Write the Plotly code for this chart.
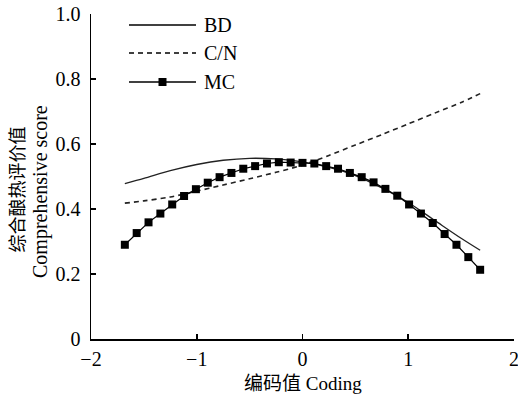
import plotly.graph_objects as go

# ---- data ----
coding_mc = [-1.68, -1.568, -1.456, -1.344, -1.232, -1.12, -1.008, -0.896, -0.784, -0.672,
             -0.56, -0.448, -0.336, -0.224, -0.112, 0.0, 0.112, 0.224, 0.336, 0.448,
             0.56, 0.672, 0.784, 0.896, 1.008, 1.12, 1.232, 1.344, 1.456, 1.568, 1.68]
mc = [0.290, 0.326, 0.359, 0.386, 0.414, 0.440, 0.461, 0.481, 0.498, 0.511,
      0.524, 0.532, 0.540, 0.544, 0.543, 0.542, 0.540, 0.532, 0.524, 0.511,
      0.498, 0.482, 0.462, 0.441, 0.414, 0.386, 0.357, 0.323, 0.290, 0.252, 0.213]

coding_curve = [-1.68, -1.5, -1.25, -1.0, -0.75, -0.5, -0.25, 0.0, 0.25, 0.5, 0.75, 1.0, 1.25, 1.5, 1.68]
bd = [0.478, 0.494, 0.518, 0.537, 0.550, 0.556, 0.554, 0.545, 0.528, 0.503, 0.465, 0.420, 0.365, 0.310, 0.273]
cn = [0.418, 0.425, 0.437, 0.455, 0.474, 0.493, 0.513, 0.535, 0.565, 0.597, 0.629, 0.662, 0.695, 0.728, 0.755]

x_ticks = [-2, -1, 0, 1, 2]
x_ticktext = ["\u22122", "\u22121", "0", "1", "2"]
y_ticks = [0, 0.2, 0.4, 0.6, 0.8, 1.0]
y_ticktext = ["0", "0.2", "0.4", "0.6", "0.8", "1.0"]

legend_names = ["BD", "C/N", "MC"]
x_title = "编码值 Coding"
y_title_cn = "综合酿热评价值"
y_title_en = "Comprehensive score"

FONT = "Liberation Serif, Times New Roman, Noto Sans CJK SC, serif"

fig = go.Figure()
fig.add_trace(go.Scatter(x=coding_curve, y=bd, mode="lines", name=legend_names[0],
                         line=dict(color="#222222", width=1.3, shape="spline", smoothing=0.8)))
fig.add_trace(go.Scatter(x=coding_curve, y=cn, mode="lines", name=legend_names[1],
                         line=dict(color="#222222", width=1.6, dash="5px,4px", shape="spline", smoothing=0.8)))
fig.add_trace(go.Scatter(x=coding_mc, y=mc, mode="lines+markers", name=legend_names[2],
                         line=dict(color="#000000", width=1.2),
                         marker=dict(symbol="square", size=8, color="#000000")))

# body margin is removed by post_script, so the figure fills the window from (0, 0)
W, H = 518, 394
L, R, T, B = 91, 4, 14, 55
pw, ph = W - L - R, H - T - B

def px(xp):
    return (xp - L) / pw

def py(yp):
    return (H - B - yp) / ph

shapes = []
annotations = []
leg_y = [25, 53, 82]
for i, name in enumerate(legend_names):
    shapes.append(dict(type="line", xref="paper", yref="paper",
                       x0=px(129), x1=px(196), y0=py(leg_y[i]), y1=py(leg_y[i]),
                       line=dict(color="#000000", width=1.4 if i != 1 else 1.6,
                                 dash="solid" if i != 1 else "5px,4px")))
    annotations.append(dict(xref="paper", yref="paper", x=px(202), y=py(leg_y[i]),
                            text=name, showarrow=False, xanchor="left", yanchor="middle",
                            font=dict(family=FONT, size=20, color="#000000")))
# MC legend marker
shapes.append(dict(type="rect", xref="paper", yref="paper",
                   x0=px(158.5), x1=px(166.5), y0=py(86), y1=py(78),
                   fillcolor="#000000", line=dict(width=0)))

annotations.append(dict(xref="paper", yref="paper", x=px(303), y=py(383),
                        text=x_title, showarrow=False, xanchor="center", yanchor="middle",
                        font=dict(family=FONT, size=19, color="#000000")))
annotations.append(dict(xref="paper", yref="paper", x=px(17.5), y=py(190),
                        text=y_title_cn, showarrow=False, textangle=-90,
                        xanchor="center", yanchor="middle",
                        font=dict(family=FONT, size=18, color="#000000")))
annotations.append(dict(xref="paper", yref="paper", x=px(40), y=py(192),
                        text=y_title_en, showarrow=False, textangle=-90,
                        xanchor="center", yanchor="middle",
                        font=dict(family=FONT, size=20, color="#000000")))

fig.update_layout(
    template="none",
    width=W, height=H,
    margin=dict(l=L, r=R, t=T, b=B, pad=0, autoexpand=False),
    paper_bgcolor="white", plot_bgcolor="white",
    showlegend=False,
    hovermode=False,
    font=dict(family=FONT, size=20, color="#000000"),
    shapes=shapes, annotations=annotations,
)
fig.update_xaxes(range=[-2, 2.0001], tickvals=x_ticks, ticktext=x_ticktext, automargin=False,
                 showgrid=False, zeroline=False, showline=True, linecolor="#000000", linewidth=1.5,
                 ticks="inside", ticklen=5, tickwidth=1.5, tickcolor="#000000",
                 ticklabeloverflow="allow",
                 ticklabelstandoff=1, tickfont=dict(family=FONT, size=20, color="#000000"))
fig.update_yaxes(range=[0, 1.0001], tickvals=y_ticks, ticktext=y_ticktext, automargin=False,
                 showgrid=False, zeroline=False, showline=True, linecolor="#000000", linewidth=1.5,
                 ticks="inside", ticklen=5, tickwidth=1.5, tickcolor="#000000",
                 ticklabeloverflow="allow",
                 ticklabelstandoff=5, tickfont=dict(family=FONT, size=20, color="#000000"))

fig.write_html("out.html",
               config={"displayModeBar": False, "staticPlot": True},
               post_script="document.body.style.margin='0';document.body.style.overflow='hidden';")
